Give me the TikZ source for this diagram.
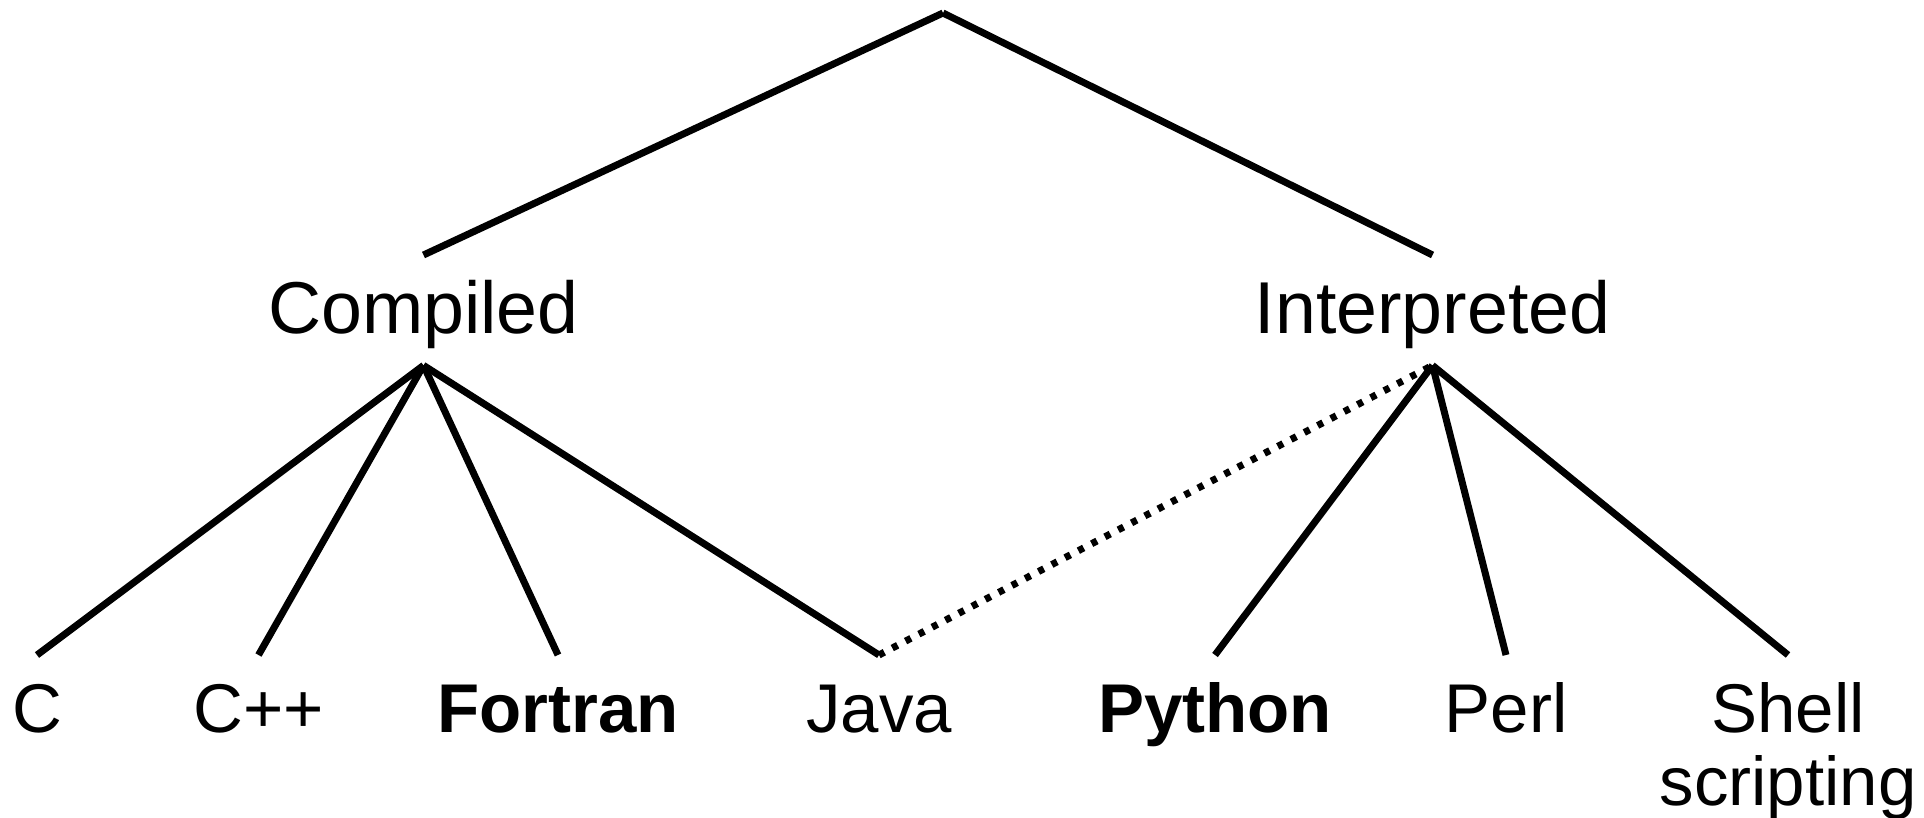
\documentclass[tikz,border=0pt]{standalone}
\usepackage{fontspec}
\setmainfont{Liberation Sans}
\tikzset{
  edge/.style={draw=black, line width=7pt, line cap=butt},
  dotedge/.style={edge, dash pattern=on 6pt off 9pt},
  category/.style={inner xsep=0pt, inner ysep=25pt, text height=53pt, text depth=7pt,
    font=\fontsize{73.5}{88}\selectfont},
  leaf/.style={inner xsep=0pt, inner ysep=28pt, text height=49pt, text depth=14pt,
    align=center, font=\fontsize{69}{73}\selectfont},
}
\begin{document}
\begin{tikzpicture}[x=1pt, y=-1pt]
\useasboundingbox (0,0) rectangle (1924,818);

% root of the tree
\coordinate (root) at (943,13);

% language categories
\node[category, anchor=north] (compiled) at (423.5,255) {Compiled};
\node[category, anchor=north] (interpreted) at (1432.5,255) {Interpreted};

% languages
\node[leaf, anchor=north] (c) at (37,655) {C};
\node[leaf, anchor=north] (cpp) at (258.5,655) {C++};
\node[leaf, anchor=north] (fortran) at (558,655) {\bfseries Fortran};
\node[leaf, anchor=north] (java) at (879,655) {Java};
\node[leaf, anchor=north] (python) at (1215,655) {\bfseries Python};
\node[leaf, anchor=north] (perl) at (1506,655) {Perl};
\node[leaf, anchor=north, text height={}, text depth={}, inner ysep=27pt] (shell) at (1788,655) {Shell\\scripting};

% branches
\draw[edge] (root) -- (compiled.north);
\draw[edge] (root) -- (interpreted.north);

\draw[edge] (compiled.south) -- (c.north);
\draw[edge] (compiled.south) -- (cpp.north);
\draw[edge] (compiled.south) -- (fortran.north);
\draw[edge] (compiled.south) -- (java.north);

\draw[dotedge] (java.north) -- (interpreted.south);
\draw[edge] (interpreted.south) -- (python.north);
\draw[edge] (interpreted.south) -- (perl.north);
\draw[edge] (interpreted.south) -- (shell.north);
\end{tikzpicture}
\end{document}
